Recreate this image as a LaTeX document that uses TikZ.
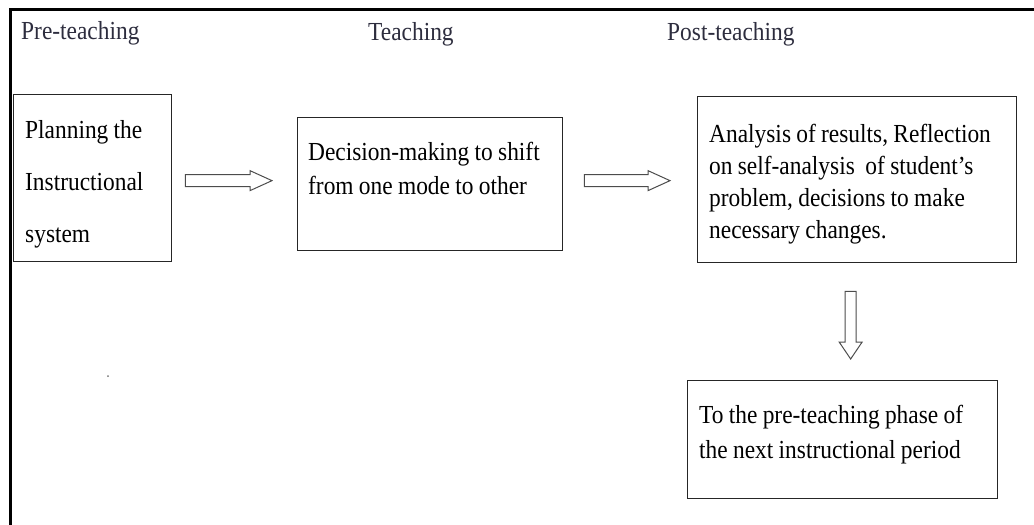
\documentclass[tikz,border=0pt]{standalone}
\usepackage{fontspec}
\setmainfont{Liberation Serif}[FakeStretch=0.9]
\usetikzlibrary{calc}
\definecolor{headcol}{RGB}{45,45,62}
\newcommand\setfnt[1]{\fontsize{26}{#1}\selectfont}
\newcommand\hollowR[2]{\draw[harrow] let \p1=(#1), \p2=(#2) in
  (\x1,\y1+6pt) -- (\x2-22pt,\y1+6pt) -- (\x2-22pt,\y1+10pt) -- (\x2,\y1)
  -- (\x2-22pt,\y1-10pt) -- (\x2-22pt,\y1-6pt) -- (\x1,\y1-6pt) -- cycle;}
\newcommand\hollowD[2]{\draw[harrow] let \p1=(#1), \p2=(#2) in
  (\x1-5.5pt,\y1) -- (\x1-5.5pt,\y2+17pt) -- (\x1-11.5pt,\y2+17pt) -- (\x1,\y2)
  -- (\x1+11.5pt,\y2+17pt) -- (\x1+5.5pt,\y2+17pt) -- (\x1+5.5pt,\y1) -- cycle;}
\begin{document}
\begin{tikzpicture}[x=1pt,y=1pt,
  box/.style={draw=black!85, line width=1.3pt, rectangle, inner sep=0pt, anchor=north west},
  txt/.style={anchor=base west, inner sep=0pt, text width=330pt, align=left,
    font=\setfnt{#1}, execute at begin node={\spaceskip=5.3pt\xspaceskip=5.3pt\relax}},
  head/.style={anchor=base west, inner sep=0pt, text=headcol,
    font=\setfnt{30}},
  harrow/.style={draw=black!70, line width=1pt, line join=miter, fill=white},
  frame/.style={line width=3pt, draw=black}
]
\useasboundingbox (0,0) rectangle (1034,-525);
\draw[frame] (1034,-9) -- (10,-9) -- (10,-525);

% headers
\node[head] (h1) at (21,-39) {Pre-teaching};
\node[head] (h2) at (368,-40) {Teaching};
\node[head] (h3) at (667,-40) {Post-teaching};

% boxes
\node[box, minimum width=158pt, minimum height=167pt] (b1) at (13,-94) {};
\node[box, minimum width=265pt, minimum height=133pt] (b2) at (297,-117) {};
\node[box, minimum width=319pt, minimum height=166pt] (b3) at (697,-96) {};
\node[box, minimum width=310pt, minimum height=118pt] (b4) at (687,-380) {};

% texts
\node[txt=52] (t1) at (25,-138) {Planning the\\Instructional\\system};
\node[txt=34] (t2) at (308,-160) {Decision-making to shift\\from one mode to other};
\node[txt=32] (t3) at (709,-142) {Analysis of results, Reflection\\on self-analysis\ \ of student’s\\problem, decisions to make\\necessary changes.};
\node[txt=35] (t4) at (699,-423) {To the pre-teaching phase of\\the next instructional period};

% stray dot
\node[circle, fill=black!55, inner sep=0pt, minimum size=2pt] (dot) at (108,-376) {};

% arrows
\coordinate (a1s) at ($(b1.east)+(13pt,-2.5pt)$);
\coordinate (a1e) at ($(b2.west)+(-25pt,0pt)$);
\coordinate (a2s) at ($(b2.east)+(21pt,3.5pt)$);
\coordinate (a2e) at ($(b3.west)+(-27pt,0pt)$);
\coordinate (a3s) at ($(b3.south)+(-6.5pt,-28pt)$);
\coordinate (a3e) at ($(b4.north)+(0pt,21pt)$);
\hollowR{a1s}{a1e}
\hollowR{a2s}{a2e}
\hollowD{a3s}{a3e}
\end{tikzpicture}
\end{document}
